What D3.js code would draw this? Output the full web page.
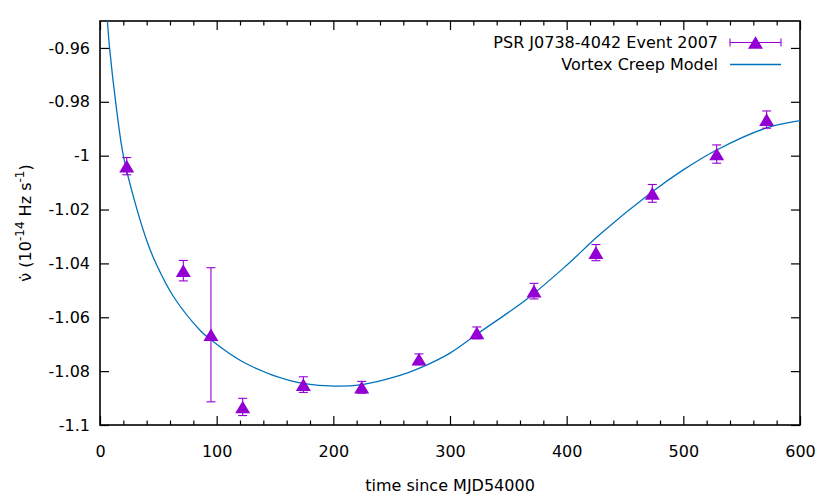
<!DOCTYPE html>
<html>
<head>
<meta charset="utf-8">
<script src="https://cdn.jsdelivr.net/npm/d3@7"></script>
<style>
  body { margin: 0; background: #fff; }
  text { font-family: "DejaVu Sans", sans-serif; font-size: 16px; fill: #000; }
</style>
</head>
<body>
<div id="chart"></div>
<script>
// measured points (time since MJD54000, nu-dot in 1e-14 Hz/s, error)
var obsT = [22.9, 71.4, 95.1, 122.3, 174.3, 224.3, 273.4, 323, 372, 425.1, 473.4, 528.6, 571.4]
var obsV = [-1.0039, -1.0427, -1.0665, -1.0933, -1.0850, -1.0860, -1.0756, -1.0658, -1.0503, -1.0360, -1.0140, -0.9994, -0.9866]
var obsErr = [0.0032, 0.0038, 0.0249, 0.0032, 0.0029, 0.0022, 0.0020, 0.0022, 0.0029, 0.0030, 0.0033, 0.0034, 0.0032]

// vortex creep model curve
var modelT = [4, 6.3, 8.2, 13.4, 20, 30.4, 41.1, 48.6, 62.8, 85.7, 95.1, 122.6, 162.9, 197.1, 224.6, 257.1, 273.4, 300, 324, 366, 400, 428.6, 473.4, 500.6, 528.6, 571.4, 600]
var modelV = [-0.94, -0.95, -0.96, -0.98, -1.0, -1.018, -1.0328, -1.0406, -1.0522, -1.0648, -1.0684, -1.0766, -1.0835, -1.0855, -1.085, -1.0816, -1.079, -1.0733, -1.066, -1.0532, -1.0407, -1.0292, -1.0134, -1.0051, -0.9979, -0.9897, -0.987]

var xTicks = [0, 100, 200, 300, 400, 500, 600]
var xMinor = [20, 40, 60, 80, 120, 140, 160, 180, 220, 240, 260, 280, 320, 340, 360, 380, 420, 440, 460, 480, 520, 540, 560, 580]
var yTicks = [-1.1, -1.08, -1.06, -1.04, -1.02, -1, -0.98, -0.96]
var yTickLabels = ["-1.1", "-1.08", "-1.06", "-1.04", "-1.02", "-1", "-0.98", "-0.96"]

var seriesNames = ["PSR J0738-4042 Event 2007", "Vortex Creep Model"]
var pointColor = "#9400d3"
var lineColor = "#0072bd"

var W = 830, H = 498
var L = 100, R = 800, T = 21, B = 425

var svg = d3.select("#chart").append("svg").attr("width", W).attr("height", H)

var x = d3.scaleLinear().domain([0, 600]).range([L, R])
var y = d3.scaleLinear().domain([-1.1, -0.95]).range([B, T])

svg.append("clipPath").attr("id", "clip")
    .append("rect").attr("x", L).attr("y", T).attr("width", R - L).attr("height", B - T)

// axes, ticks pointing inward
svg.append("g").attr("transform", "translate(0," + B + ")")
    .call(d3.axisBottom(x).tickValues(xTicks).tickSize(-9).tickPadding(21).tickFormat(d3.format("d")))
svg.append("g").attr("transform", "translate(0," + B + ")")
    .call(d3.axisBottom(x).tickValues(xMinor).tickSize(-4.5).tickFormat(""))
svg.append("g").attr("transform", "translate(0," + T + ")")
    .call(d3.axisTop(x).tickValues(xTicks).tickSize(-9).tickFormat(""))
svg.append("g").attr("transform", "translate(0," + T + ")")
    .call(d3.axisTop(x).tickValues(xMinor).tickSize(-4.5).tickFormat(""))
svg.append("g").attr("transform", "translate(" + L + ",0)")
    .call(d3.axisLeft(y).tickValues(yTicks).tickSize(-9).tickPadding(10)
        .tickFormat(function(d, i){ return yTickLabels[i] }))
svg.append("g").attr("transform", "translate(" + R + ",0)")
    .call(d3.axisRight(y).tickValues(yTicks).tickSize(-9).tickFormat(""))

svg.selectAll(".domain").remove()
svg.selectAll(".tick line").attr("stroke", "#000").attr("stroke-width", 1.2)
svg.selectAll(".tick text").attr("font-family", "DejaVu Sans").attr("font-size", 16).attr("fill", "#000")

svg.append("rect").attr("x", L).attr("y", T).attr("width", R - L).attr("height", B - T)
    .attr("fill", "none").attr("stroke", "#000").attr("stroke-width", 1.6)

// model curve
var modelData = modelT.map(function(t, i){ return [t, modelV[i]] })
svg.append("path")
    .datum(modelData)
    .attr("clip-path", "url(#clip)")
    .attr("fill", "none")
    .attr("stroke", lineColor)
    .attr("stroke-width", 1.3)
    .attr("d", d3.line().x(function(d){ return x(d[0]) }).y(function(d){ return y(d[1]) }).curve(d3.curveCatmullRom.alpha(0.5)))

// error bars + triangles
var tri = "M0,-6.3L7.5,6.3L-7.5,6.3Z"
var obs = obsT.map(function(t, i){ return {t: t, v: obsV[i], e: obsErr[i]} })
var g = svg.append("g")
g.selectAll("line.bar").data(obs).enter().append("line").attr("class", "bar")
    .attr("x1", function(d){ return x(d.t) }).attr("x2", function(d){ return x(d.t) })
    .attr("y1", function(d){ return y(d.v - d.e) }).attr("y2", function(d){ return y(d.v + d.e) })
    .attr("stroke", pointColor).attr("stroke-width", 1.1)
g.selectAll("line.capTop").data(obs).enter().append("line").attr("class", "capTop")
    .attr("x1", function(d){ return x(d.t) - 4.5 }).attr("x2", function(d){ return x(d.t) + 4.5 })
    .attr("y1", function(d){ return y(d.v + d.e) }).attr("y2", function(d){ return y(d.v + d.e) })
    .attr("stroke", pointColor).attr("stroke-width", 1.1)
g.selectAll("line.capBot").data(obs).enter().append("line").attr("class", "capBot")
    .attr("x1", function(d){ return x(d.t) - 4.5 }).attr("x2", function(d){ return x(d.t) + 4.5 })
    .attr("y1", function(d){ return y(d.v - d.e) }).attr("y2", function(d){ return y(d.v - d.e) })
    .attr("stroke", pointColor).attr("stroke-width", 1.1)
g.selectAll("path").data(obs).enter().append("path")
    .attr("d", tri)
    .attr("transform", function(d){ return "translate(" + x(d.t) + "," + y(d.v) + ")" })
    .attr("fill", pointColor)

// legend
var lg = svg.append("g")
lg.append("text").text(seriesNames[0]).attr("x", 718).attr("y", 48).attr("text-anchor", "end")
lg.append("text").text(seriesNames[1]).attr("x", 718).attr("y", 70).attr("text-anchor", "end")
lg.append("line").attr("x1", 730).attr("x2", 781).attr("y1", 42.5).attr("y2", 42.5)
    .attr("stroke", pointColor).attr("stroke-width", 1.1)
lg.append("line").attr("x1", 730).attr("x2", 730).attr("y1", 38.5).attr("y2", 46.5)
    .attr("stroke", pointColor).attr("stroke-width", 1.1)
lg.append("line").attr("x1", 781).attr("x2", 781).attr("y1", 38.5).attr("y2", 46.5)
    .attr("stroke", pointColor).attr("stroke-width", 1.1)
lg.append("path").attr("d", tri).attr("transform", "translate(755.5,42.5)").attr("fill", pointColor)
lg.append("line").attr("x1", 730).attr("x2", 781).attr("y1", 64.5).attr("y2", 64.5)
    .attr("stroke", lineColor).attr("stroke-width", 1.3)

// axis titles
svg.append("text").text("time since MJD54000")
    .attr("x", (L + R) / 2).attr("y", 491).attr("text-anchor", "middle")

var yt = svg.append("text").attr("transform", "translate(31," + ((T + B) / 2) + ") rotate(-90)")
    .attr("text-anchor", "middle")
yt.append("tspan").text("\u03bd\u0307 (10")
yt.append("tspan").text("-14").attr("font-size", 12).attr("dy", -7)
yt.append("tspan").text(" Hz s").attr("dy", 7)
yt.append("tspan").text("-1").attr("font-size", 12).attr("dy", -7)
yt.append("tspan").text(")").attr("dy", 7)
</script>
</body>
</html>
